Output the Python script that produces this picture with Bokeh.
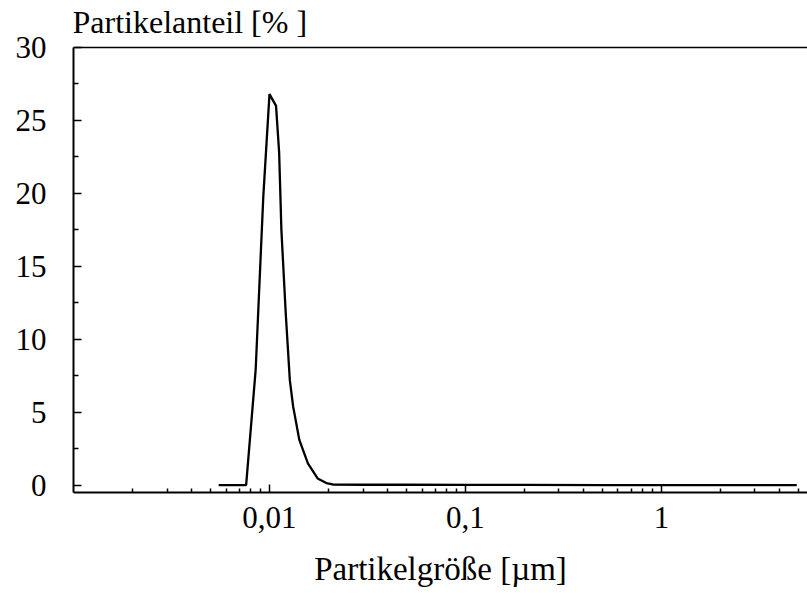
from bokeh.plotting import figure
from bokeh.models import Range1d, FixedTicker, Span, Label, CustomJSTickFormatter
from bokeh.embed import file_html
from bokeh.resources import INLINE

# Particle size distribution
size_um = [0.0055, 0.0076, 0.0085, 0.0093, 0.0100, 0.0108, 0.0112, 0.0115,
           0.0121, 0.0127, 0.0132, 0.0142, 0.0157, 0.0176, 0.0195, 0.0210,
           0.03, 0.05, 0.1, 0.2, 0.5, 1.0, 2.0, 4.9]
share_pct = [0.0, 0.0, 7.9, 19.8, 26.8, 26.0, 22.8, 17.5,
             11.8, 7.2, 5.4, 3.1, 1.5, 0.46, 0.15, 0.05,
             0.03, 0.03, 0.02, 0.02, 0.0, 0.0, 0.0, 0.0]

x_major = [0.01, 0.1, 1.0]
x_minor = [0.002, 0.003, 0.004, 0.005, 0.006, 0.007, 0.008, 0.009,
           0.02, 0.03, 0.04, 0.05, 0.06, 0.07, 0.08, 0.09,
           0.2, 0.3, 0.4, 0.5, 0.6, 0.7, 0.8, 0.9,
           2.0, 3.0, 4.0, 5.0]
y_major = [0, 5, 10, 15, 20, 25, 30]
y_minor = [2.5, 7.5, 12.5, 17.5, 22.5, 27.5]
y_axis_max = 30

title_text = "Partikelanteil  [% ]"
x_title = "Partikelgröße [µm]"

FONT = "Liberation Serif"

# frame reaches the top of the canvas; the axis box itself ends at y = 30
p = figure(width=807, height=593, x_axis_type="log",
           x_range=Range1d(0.001, 5.56), y_range=Range1d(-0.5, 33.22),
           output_backend="svg", toolbar_location=None,
           min_border_left=73, min_border_right=0,
           min_border_top=0, min_border_bottom=101)

p.grid.visible = False
p.outline_line_color = None
p.background_fill_color = "white"
p.border_fill_color = "white"

p.line(size_um, share_pct, line_color="black", line_width=2.3)

# x axis
p.xaxis.ticker = FixedTicker(ticks=x_major, minor_ticks=x_minor)
p.xaxis.formatter = CustomJSTickFormatter(code="return tick.toString().replace('.', ',');")
p.xaxis.axis_line_width = 2
p.xaxis.major_tick_in = 8
p.xaxis.major_tick_out = 0
p.xaxis.minor_tick_in = 4
p.xaxis.minor_tick_out = 0
p.xaxis.major_tick_line_width = 1.5
p.xaxis.minor_tick_line_width = 1.5
p.xaxis.major_label_standoff = 14
p.xaxis.major_label_text_font = FONT
p.xaxis.major_label_text_font_size = "31px"
p.xaxis.major_label_text_color = "black"
p.xaxis.axis_label = x_title
p.xaxis.axis_label_text_font = FONT
p.xaxis.axis_label_text_font_size = "33px"
p.xaxis.axis_label_text_font_style = "normal"
p.xaxis.axis_label_text_color = "black"
p.xaxis.axis_label_standoff = 20

# y axis
p.yaxis.ticker = FixedTicker(ticks=y_major, minor_ticks=y_minor)
p.yaxis.bounds = (-0.5, y_axis_max)
p.yaxis.axis_line_width = 2
p.yaxis.major_tick_in = 8
p.yaxis.major_tick_out = 0
p.yaxis.minor_tick_in = 5
p.yaxis.minor_tick_out = 0
p.yaxis.major_tick_line_width = 1.5
p.yaxis.minor_tick_line_width = 1.5
p.yaxis.major_label_standoff = 27
p.yaxis.major_label_text_font = FONT
p.yaxis.major_label_text_font_size = "31px"
p.yaxis.major_label_text_color = "black"

# top line of the axis box
p.add_layout(Span(location=y_axis_max, dimension="width", line_color="black", line_width=1.5))

# y quantity written above the box, starting at its left edge
p.add_layout(Label(x=0.001, y=31.78, text=title_text, x_offset=-1, y_offset=0,
                   text_font=FONT, text_font_size="32px", text_color="black",
                   text_baseline="alphabetic", text_align="left"))

open("out.html", "w").write(file_html(p, INLINE))
